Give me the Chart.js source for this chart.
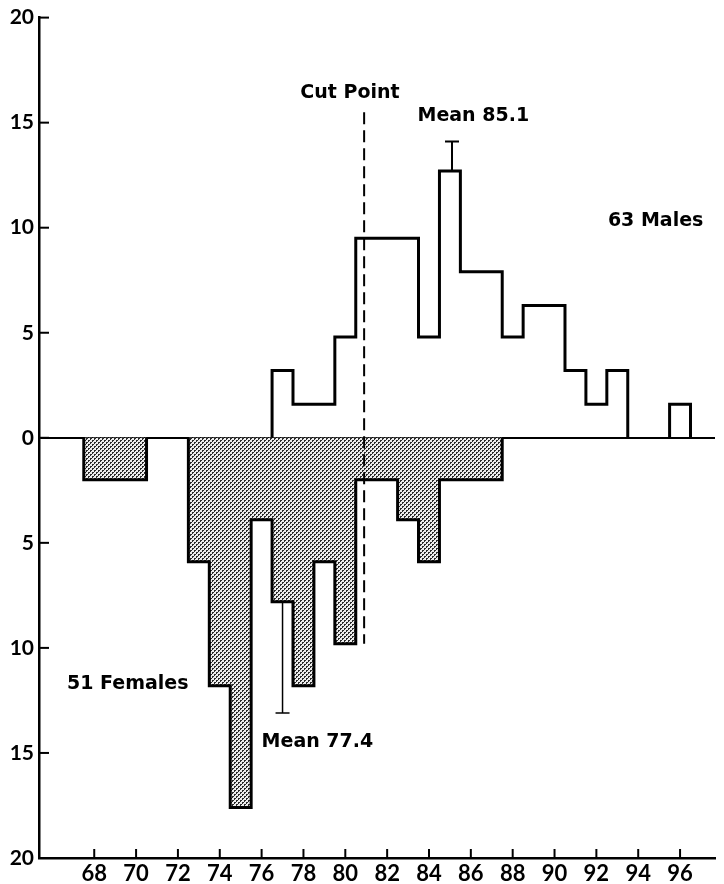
<!DOCTYPE html>
<html><head><meta charset="utf-8">
<script src="https://cdn.jsdelivr.net/npm/chart.js@4.4.1/dist/chart.umd.min.js"></script>
<style>html,body{margin:0;padding:0;background:#fff;} #wrap{width:724px;height:884px;}</style>
</head><body><div id="wrap"><canvas id="c" width="724" height="884"></canvas></div>
<script>
// ---- data (percent of group) ----
const xTickLabels = [68,70,72,74,76,78,80,82,84,86,88,90,92,94,96];
const yTickValues = [-20,-15,-10,-5,0,5,10,15,20];
const maleBins   = [77,78,79,80,81,82,83,84,85,86,87,88,89,90,91,92,93,94,95,96];
const maleValues = [3.2,1.6,1.6,4.8,9.5,9.5,9.5,4.8,12.7,7.9,7.9,4.8,6.3,6.3,3.2,1.6,3.2,0,0,1.6];
const femaleBins   = [68,69,70,71,72,73,74,75,76,77,78,79,80,81,82,83,84,85,86,87];
const femaleValues = [-2.0,-2.0,-2.0,0,0,-5.9,-11.8,-17.6,-3.9,-7.8,-11.8,-5.9,-9.8,-2.0,-2.0,-3.9,-5.9,-2.0,-2.0,-2.0];
const maleMeanX = 85.1;   const maleErr = [12.7, 14.1];
const femaleMeanX = 77.0; const femaleErr = [-7.8, -13.1];
const cutPointX = 80.9;   const cutRange = [15.5, -9.8];
const binWidth = 1;

function stepOutline(bins, values){
  const pts = [{x: bins[0]-binWidth/2, y: 0}];
  bins.forEach((c,i)=>{ pts.push({x:c-binWidth/2, y:values[i]}); pts.push({x:c+binWidth/2, y:values[i]}); });
  pts.push({x: bins[bins.length-1]+binWidth/2, y: 0});
  return pts;
}

// stipple pattern
const pc = document.createElement('canvas'); pc.width = 4; pc.height = 4;
const pctx = pc.getContext('2d');
pctx.fillStyle = '#ececec'; pctx.fillRect(0,0,4,4);
pctx.fillStyle = '#2a2a2a';
[[0,0],[1,0],[0,1],[2,2],[3,2],[2,3]].forEach(p=>pctx.fillRect(p[0],p[1],1,1));
const stipple = pctx.createPattern(pc,'repeat');

const FONT = "Lato, 'Liberation Sans', sans-serif";
const ANN_FONT = "bold 19px 'DejaVu Sans', sans-serif";

const annotations = [
  {text:'Cut Point',  x:77.85, y:16.4},
  {text:'Mean 85.1',  x:83.45, y:15.3},
  {text:'63 Males',   x:92.55, y:10.3},
  {text:'51 Females', x:66.7,  y:-11.7},
  {text:'Mean 77.4',  x:76.0,  y:-14.5}
];

const decor = {
  id:'decor',
  afterDraw(chart){
    const {ctx, scales:{x,y}, chartArea:a} = chart;
    ctx.save();
    ctx.strokeStyle = '#000'; ctx.lineWidth = 2;
    yTickValues.forEach(v=>{
      const py = y.getPixelForValue(v);
      ctx.beginPath(); ctx.moveTo(a.left, py); ctx.lineTo(a.left+10, py); ctx.stroke();
    });
    xTickLabels.forEach(v=>{
      const px = x.getPixelForValue(v);
      ctx.beginPath(); ctx.moveTo(px, a.bottom); ctx.lineTo(px, a.bottom-9); ctx.stroke();
    });
    ctx.fillStyle = '#000';
    ctx.font = ANN_FONT;
    ctx.textAlign = 'left'; ctx.textBaseline = 'middle';
    annotations.forEach(t=>{
      ctx.fillText(t.text, x.getPixelForValue(t.x), y.getPixelForValue(t.y));
    });
    ctx.restore();
  }
};

const hideZeroRuns = { borderColor: (c)=> (c.p0.parsed.y===0 && c.p1.parsed.y===0) ? 'rgba(0,0,0,0)' : undefined };

new Chart(document.getElementById('c'), {
  type:'line',
  data:{ datasets:[
    { label:'cut', data:[{x:cutPointX,y:cutRange[0]},{x:cutPointX,y:cutRange[1]}],
      borderColor:'#000', borderWidth:2, borderDash:[12,6], pointRadius:0, fill:false, order:0 },
    { label:'male mean', data:[{x:maleMeanX,y:maleErr[0]},{x:maleMeanX,y:maleErr[1]}],
      borderColor:'#000', borderWidth:2, pointRadius:[0,7], pointStyle:'line', pointBorderWidth:2,
      pointBorderColor:'#000', fill:false, order:1 },
    { label:'female mean', data:[{x:femaleMeanX,y:femaleErr[0]},{x:femaleMeanX,y:femaleErr[1]}],
      borderColor:'#000', borderWidth:1.5, pointRadius:[0,7], pointStyle:'line', pointBorderWidth:1.5,
      pointBorderColor:'#000', fill:false, order:1 },
    { label:'63 Males', data:stepOutline(maleBins, maleValues), segment:hideZeroRuns,
      borderColor:'#000', borderWidth:3, pointRadius:0, fill:false, order:2, borderJoinStyle:'miter' },
    { label:'51 Females', data:stepOutline(femaleBins, femaleValues), segment:hideZeroRuns,
      borderColor:'#000', borderWidth:3, backgroundColor:stipple, pointRadius:0, fill:'origin', order:3, borderJoinStyle:'miter' }
  ]},
  options:{
    responsive:false, devicePixelRatio:1, animation:false,
    layout:{ padding:{ top:14, right:0, left:0, bottom:0 } },
    plugins:{ legend:{display:false}, tooltip:{enabled:false} },
    elements:{ line:{ tension:0 } },
    scales:{
      x:{ type:'linear', min:65.36, max:97.67,
        afterBuildTicks(s){ s.ticks = xTickLabels.map(v=>({value:v})); },
        afterFit(s){ s.height = 26; },
        grid:{ drawOnChartArea:false, drawTicks:false, color:'rgba(0,0,0,0)' },
        border:{ display:true, color:'#000', width:2.5 },
        ticks:{ color:'#000', padding:3, autoSkip:false, maxRotation:0, font:{ family:FONT, size:22, weight:'bold' } }
      },
      y:{ type:'linear', min:-20, max:20,
        afterBuildTicks(s){ s.ticks = yTickValues.map(v=>({value:v})); },
        afterFit(s){ s.width = 39; },
        grid:{ drawTicks:false, color:(c)=> c.tick && c.tick.value===0 ? '#000' : 'rgba(0,0,0,0)', lineWidth:2 },
        border:{ display:true, color:'#000', width:2.5 },
        ticks:{ color:'#000', padding:5, callback:(v)=>String(Math.abs(v)), font:{ family:FONT, size:21, weight:'bold' } }
      }
    }
  },
  plugins:[decor]
});
</script>
</body></html>
